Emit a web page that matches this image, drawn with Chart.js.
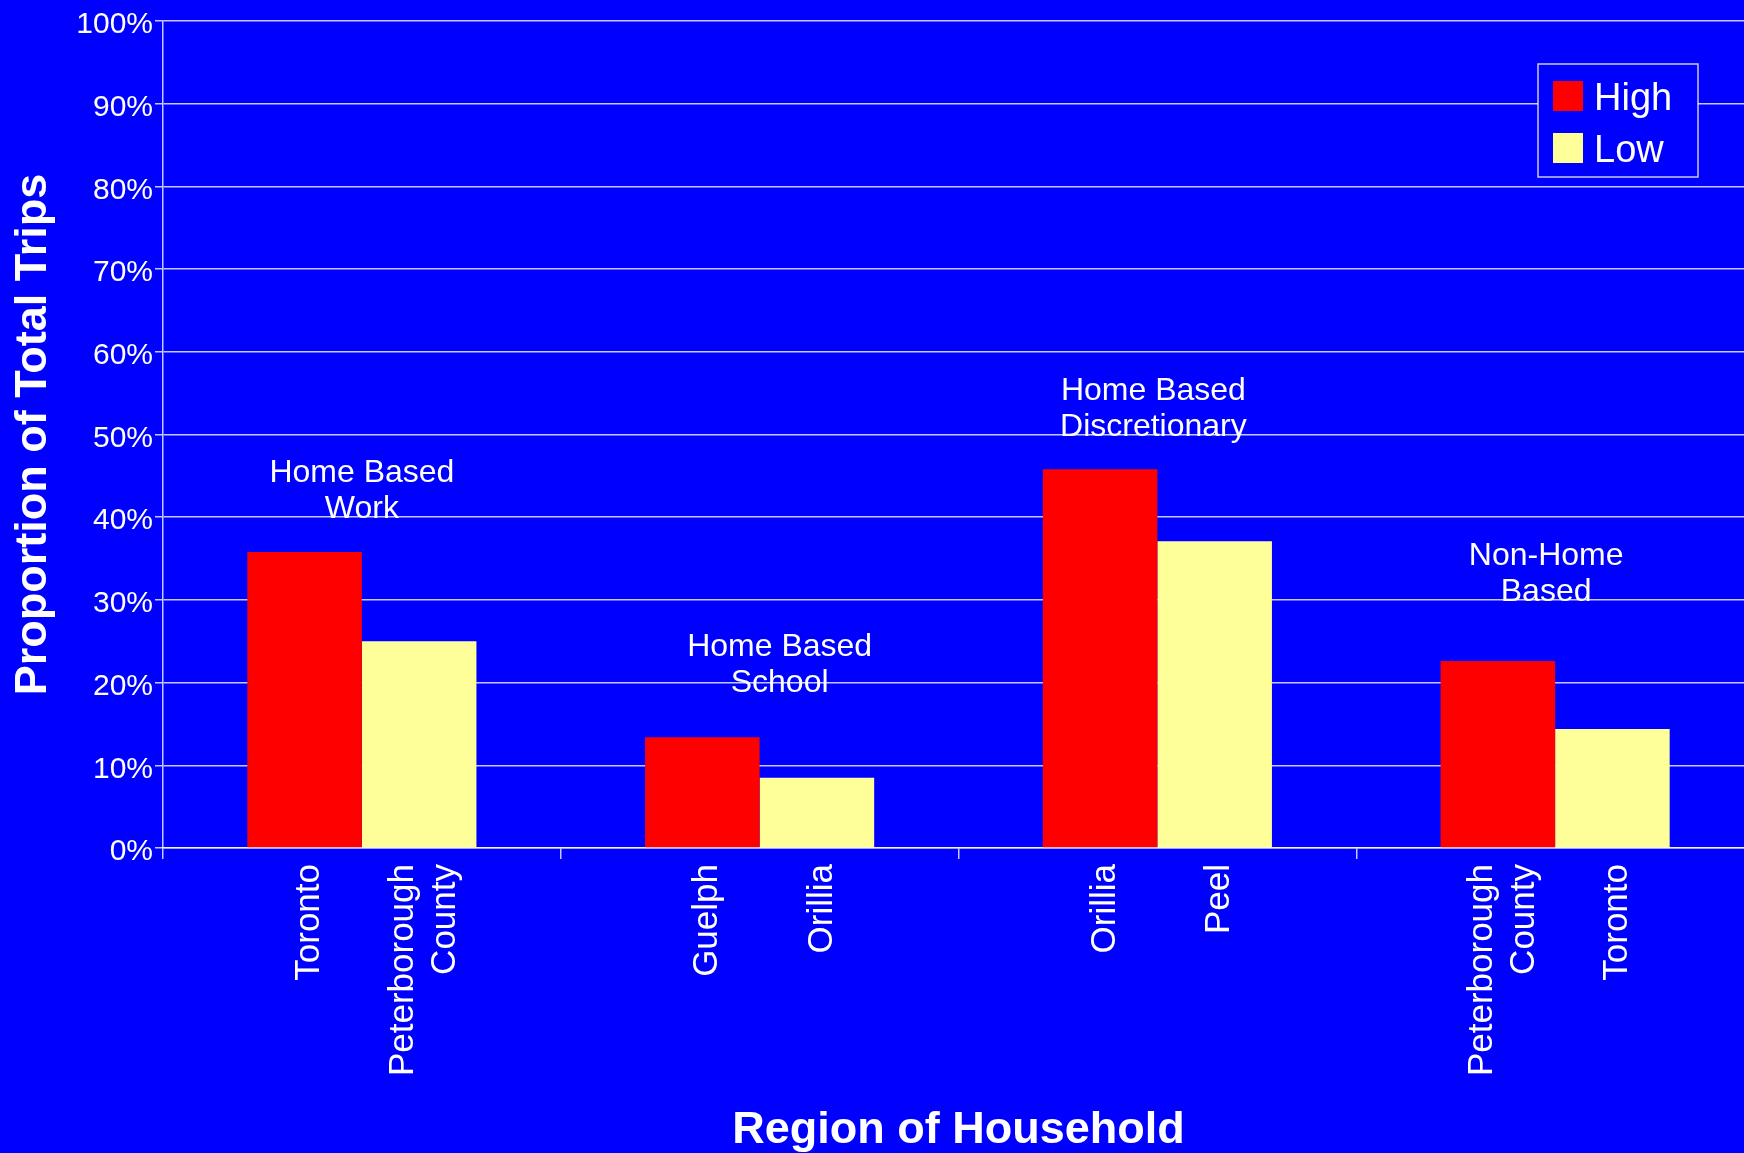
<!DOCTYPE html>
<html>
<head>
<meta charset="utf-8">
<title>Proportion of Total Trips by Region of Household</title>
<script src="https://cdn.jsdelivr.net/npm/chart.js@4.4.1/dist/chart.umd.min.js"></script>
<style>
  html, body { margin: 0; padding: 0; background: #0000ff; overflow: hidden; }
  canvas { display: block; }
</style>
</head>
<body>
<canvas id="trips-chart" width="1760" height="1153" style="width:1760px;height:1153px"></canvas>
<script>
// trip purposes (one group of bars each)
const purposes = [['Home Based', 'Work'], ['Home Based', 'School'], ['Home Based', 'Discretionary'], ['Non-Home', 'Based']];
// region with the highest / lowest share for each purpose
const highRegions = ['Toronto', 'Guelph', 'Orillia', ['Peterborough', 'County']];
const lowRegions  = [['Peterborough', 'County'], 'Orillia', 'Peel', 'Toronto'];
// proportion of total trips, %
const highShare = [35.8, 13.4, 45.8, 22.6];
const lowShare  = [25.0, 8.5, 37.1, 14.4];
// level (%) where each purpose caption sits
const captionLevel = [40, 19, 50, 30];

const FONT = '"Liberation Sans", Arial, sans-serif';
const GRID = 'rgba(255,255,255,0.78)';
const captionNudge = [0, 20, -4, -9]; // captions were hand placed in the original

// region names under each bar, rotated
const regionLabels = {
  id: 'regionLabels',
  afterDraw(chart) {
    const ctx = chart.ctx;
    const top = chart.chartArea.bottom + 16;
    ctx.save();
    ctx.fillStyle = '#ffffff';
    ctx.font = '35px ' + FONT;
    ctx.textAlign = 'right';
    ctx.textBaseline = 'middle';
    chart.data.datasets.forEach((ds, di) => {
      chart.getDatasetMeta(di).data.forEach((bar, i) => {
        const lines = [].concat(ds.regions[i]);
        ctx.save();
        ctx.translate(bar.x + 5, top);
        ctx.rotate(-Math.PI / 2);
        lines.forEach((t, k) => ctx.fillText(t, 0, (k - (lines.length - 1) / 2) * 42));
        ctx.restore();
      });
    });
    ctx.restore();
  }
};

// trip purpose caption above each group
const purposeCaptions = {
  id: 'purposeCaptions',
  afterDatasetsDraw(chart) {
    const ctx = chart.ctx;
    const x = chart.scales.x, y = chart.scales.y;
    ctx.save();
    ctx.fillStyle = '#ffffff';
    ctx.font = '32px ' + FONT;
    ctx.textAlign = 'center';
    ctx.textBaseline = 'alphabetic';
    chart.data.labels.forEach((lines, i) => {
      const cx = x.getPixelForValue(i) + captionNudge[i];
      const base = y.getPixelForValue(captionLevel[i]) + 1;
      lines.forEach((t, k) => ctx.fillText(t, cx, base - (lines.length - 1 - k) * 36));
    });
    ctx.restore();
  }
};

// boxed legend in the top right corner
const boxLegend = {
  id: 'boxLegend',
  afterDatasetsDraw(chart) {
    const ctx = chart.ctx;
    const bx = 1538, by = 64, bw = 160, bh = 113;
    ctx.save();
    ctx.fillStyle = '#0000ff';
    ctx.fillRect(bx, by, bw, bh);
    ctx.strokeStyle = GRID;
    ctx.lineWidth = 1.5;
    ctx.strokeRect(bx, by, bw, bh);
    ctx.font = '38px ' + FONT;
    ctx.textBaseline = 'middle';
    ctx.textAlign = 'left';
    chart.data.datasets.forEach((ds, i) => {
      const rowY = by + 32 + i * 52;
      ctx.fillStyle = ds.backgroundColor;
      ctx.fillRect(bx + 15, rowY - 15, 30, 30);
      ctx.fillStyle = '#ffffff';
      ctx.fillText(ds.label, bx + 56, rowY + 4);
    });
    ctx.restore();
  }
};

// the percent labels sit a little below their gridlines in the original
const lowerTickLabels = {
  id: 'lowerTickLabels',
  beforeDraw(chart) {
    chart.scales.y.getLabelItems().forEach(item => {
      if (!item.lowered) {
        item.options.translation[1] += 4;
        item.lowered = true;
      }
    });
  }
};

new Chart(document.getElementById('trips-chart'), {
  type: 'bar',
  data: {
    labels: purposes,
    datasets: [
      { label: 'High', data: highShare, regions: highRegions, backgroundColor: '#ff0000', borderWidth: 0 },
      { label: 'Low', data: lowShare, regions: lowRegions, backgroundColor: '#ffff99', borderWidth: 0 },
    ],
  },
  options: {
    responsive: false,
    animation: false,
    events: [],
    categoryPercentage: 0.576,
    barPercentage: 1.0,
    layout: { padding: { top: 21, right: 6, left: 0, bottom: 0 } },
    plugins: {
      legend: { display: false },
      tooltip: { enabled: false },
    },
    scales: {
      x: {
        offset: true,
        afterFit: s => { s.height = 305; },
        grid: { offset: true, drawOnChartArea: false, drawTicks: true, tickLength: 11, color: GRID, lineWidth: 1.5 },
        border: { color: GRID, width: 1.5 },
        ticks: { display: false },
        title: {
          display: true,
          text: 'Region of Household',
          color: '#ffffff',
          font: { family: FONT, size: 45, weight: 'bold', lineHeight: 1 },
          padding: { top: 0, bottom: 0 },
        },
      },
      y: {
        min: 0,
        max: 100,
        afterFit: s => { s.width = 163; },
        grid: { color: GRID, lineWidth: 1.5, tickLength: 8 },
        border: { color: GRID, width: 1.5 },
        ticks: {
          stepSize: 10,
          padding: 2,
          color: '#ffffff',
          font: { family: FONT, size: 30 },
          callback: v => v + '%',
        },
        title: {
          display: true,
          text: 'Proportion of Total Trips',
          color: '#ffffff',
          font: { family: FONT, size: 45, weight: 'bold', lineHeight: 1 },
          padding: { top: 11, bottom: 0 },
        },
      },
    },
  },
  plugins: [lowerTickLabels, purposeCaptions, boxLegend, regionLabels],
});
</script>
</body>
</html>
